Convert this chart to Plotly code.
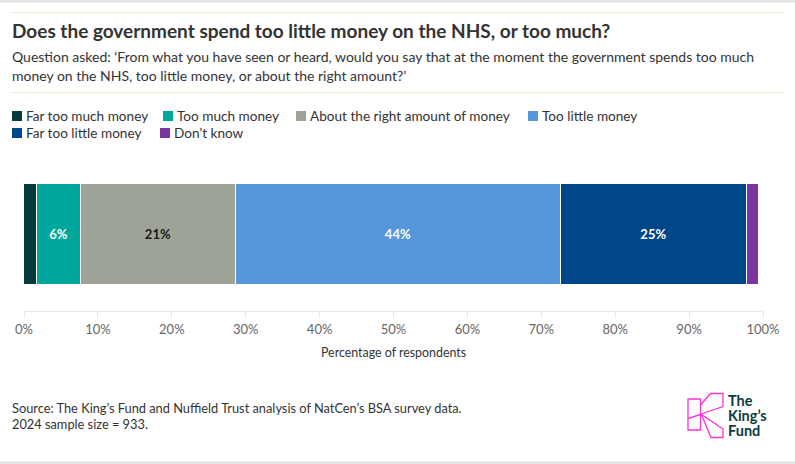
import plotly.graph_objects as go

# ---------------- data ----------------
categories = ["Far too much money", "Too much money", "About the right amount of money",
              "Too little money", "Far too little money", "Don't know"]
values = [1.7, 6.0, 21.0, 44.0, 25.2, 1.6]
bar_labels = ["", "6%", "21%", "44%", "25%", ""]
colors = ["#033A3E", "#00A79D", "#9EA398", "#5596DD", "#00468A", "#7A35A0"]
label_colors = ["#ffffff", "#ffffff", "#1a1a1a", "#ffffff", "#ffffff", "#ffffff"]
tick_vals = [0, 10, 20, 30, 40, 50, 60, 70, 80, 90, 100]
tick_text = ["0%", "10%", "20%", "30%", "40%", "50%", "60%", "70%", "80%", "90%", "100%"]

title = "Does the government spend too little money on the NHS, or too much?"
subtitle_lines = [
    "Question asked: \u2018From what you have seen or heard, would you say that at the moment the government spends too much",
    "money on the NHS, too little money, or about the right amount?\u2019",
]
axis_title = "Percentage of respondents"
source_lines = [
    "Source: The King\u2019s Fund and Nuffield Trust analysis of NatCen\u2019s BSA survey data.",
    "2024 sample size = 933.",
]
logo_lines = ["The", "King\u2019s", "Fund"]

# ---------------- layout geometry ----------------
W, H = 795, 464
L, R, T, B = 24, 32, 170, 153
PW, PH = W - L - R, H - T - B
FONT = "Lato, 'Open Sans', sans-serif"


def px(x):
    return (x - L) / PW


def py(y):
    return 1 - (y - T) / PH


fig = go.Figure()
for cat, v, lab, col, lc in zip(categories, values, bar_labels, colors, label_colors):
    fig.add_trace(go.Bar(
        x=[v], y=[0], orientation="h", width=1, name=cat,
        marker=dict(color=col, line=dict(color="#ffffff", width=1.2)),
        text=[lab], textposition="inside", insidetextanchor="middle",
        textfont=dict(family=FONT, size=13, color=lc, weight="bold"),
        showlegend=False, hoverinfo="skip",
    ))

annotations = []
shapes = []

# title + subtitle
annotations.append(dict(x=px(10), y=py(30), xref="paper", yref="paper", xanchor="left", yanchor="middle",
                        text="<b>" + title + "</b>", showarrow=False,
                        font=dict(family=FONT, size=19, color="#333333")))
for i, line in enumerate(subtitle_lines):
    annotations.append(dict(x=px(10), y=py(57 + 18 * i), xref="paper", yref="paper", xanchor="left",
                            yanchor="middle", text=line, showarrow=False,
                            font=dict(family=FONT, size=14, color="#333333")))

# manual legend
legend_pos = [(12, 116), (163, 116), (296, 116), (528, 116), (12, 133), (160, 133)]
for cat, col, (lx, ly) in zip(categories, colors, legend_pos):
    shapes.append(dict(type="rect", xref="paper", yref="paper",
                       x0=px(lx), x1=px(lx + 10), y0=py(ly - 5), y1=py(ly + 5),
                       fillcolor=col, line=dict(width=0)))
    annotations.append(dict(x=px(lx + 11.5), y=py(ly), xref="paper", yref="paper", xanchor="left",
                            yanchor="middle", text=cat, showarrow=False,
                            font=dict(family=FONT, size=13.6, color="#333333")))

# axis title
annotations.append(dict(x=0.5, y=py(352), xref="paper", yref="paper", xanchor="center", yanchor="middle",
                        text=axis_title, showarrow=False,
                        font=dict(family=FONT, size=12.4, color="#333333")))

# source
for i, line in enumerate(source_lines):
    annotations.append(dict(x=px(10), y=py(408 + 16 * i), xref="paper", yref="paper", xanchor="left",
                            yanchor="middle", text=line, showarrow=False,
                            font=dict(family=FONT, size=12.8, color="#333333")))

# logo text
for i, line in enumerate(logo_lines):
    annotations.append(dict(x=px(726), y=py(400 + 15 * i), xref="paper", yref="paper", xanchor="left",
                            yanchor="middle", text="<b>" + line + "</b>", showarrow=False,
                            font=dict(family=FONT, size=14.5, color="#0D3B3C")))

# decorative bands / separators
shapes.append(dict(type="rect", xref="paper", yref="paper", x0=px(0), x1=px(W), y0=py(0), y1=py(2.5),
                   fillcolor="#e3e3e3", line=dict(width=0), layer="above"))
shapes.append(dict(type="rect", xref="paper", yref="paper", x0=px(0), x1=px(W), y0=py(461.5), y1=py(464),
                   fillcolor="#e3e3e3", line=dict(width=0), layer="above"))
for yy in (12.5, 92.5):
    shapes.append(dict(type="line", xref="paper", yref="paper", x0=px(11), x1=px(784), y0=py(yy), y1=py(yy),
                       line=dict(color="#F1EDDB", width=1)))


# logo K outline
def path(points, close=True):
    s = "M" + " L".join(f"{px(x)},{py(y)}" for x, y in points)
    return s + (" Z" if close else "")


pink = "#FF33D6"
shapes.append(dict(type="path", xref="paper", yref="paper",
                   path=path([(688, 399), (700.5, 399), (700.5, 430), (688, 430)]),
                   line=dict(color=pink, width=1.3)))
shapes.append(dict(type="path", xref="paper", yref="paper",
                   path=path([(700.5, 405), (710.5, 393.5), (723, 393.5), (723, 406.5), (688, 418.5)], close=False),
                   line=dict(color=pink, width=1.3)))
shapes.append(dict(type="path", xref="paper", yref="paper",
                   path=path([(688, 418.5), (701.5, 414.5), (723, 429), (723, 437.5), (711, 437.5), (701.5, 414.5)], close=False),
                   line=dict(color=pink, width=1.3)))

fig.update_layout(
    width=W, height=H,
    margin=dict(l=L, r=R, t=T, b=B, pad=0),
    barmode="stack", bargap=0,
    paper_bgcolor="#ffffff", plot_bgcolor="#ffffff",
    showlegend=False,
    font=dict(family=FONT, color="#333333"),
    xaxis=dict(range=[0, 100], tickvals=tick_vals, ticktext=tick_text, showgrid=False, zeroline=False,
               showline=True, linecolor="#e6e6e6", linewidth=1, ticks="outside", ticklen=6,
               tickcolor="#e6e6e6", tickfont=dict(family=FONT, size=13, color="#666666"),
               fixedrange=True),
    yaxis=dict(range=[-0.757, 0.639], visible=False, fixedrange=True),
    annotations=annotations,
    shapes=shapes,
)

fig.write_html("out.html", config={"displayModeBar": False})
